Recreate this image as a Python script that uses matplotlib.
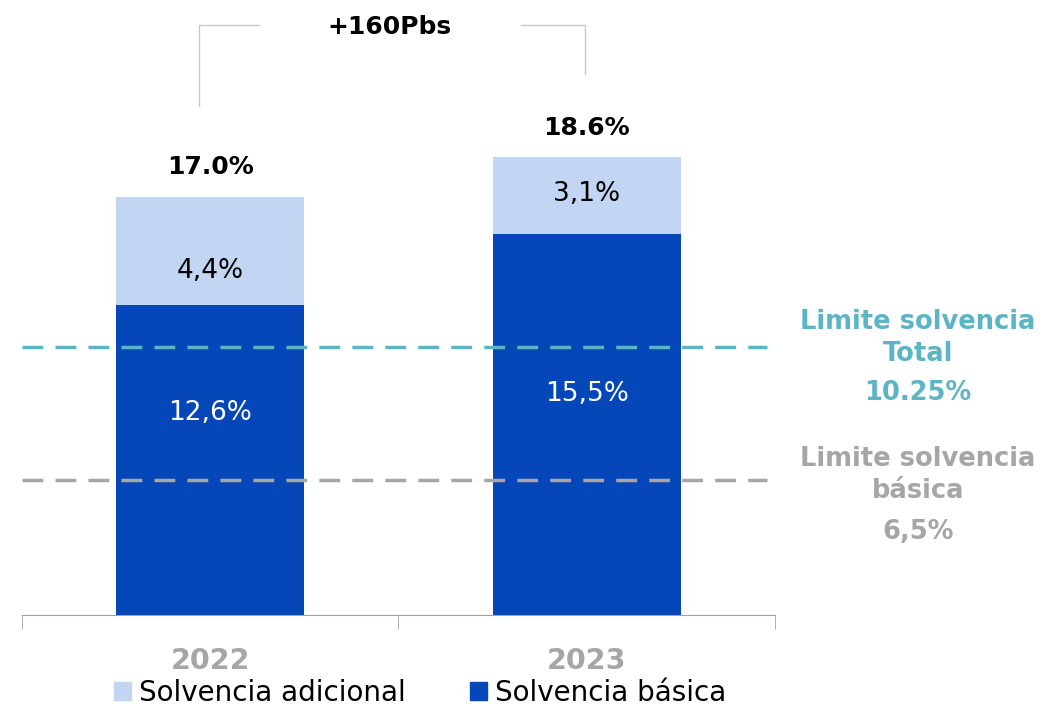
import matplotlib.pyplot as plt
from matplotlib.patches import Patch

# data
years = ["2022", "2023"]
basica = [12.6, 15.5]
adicional = [4.4, 3.1]
totales = [17.0, 18.6]
basica_txt = ["12,6%", "15,5%"]
adicional_txt = ["4,4%", "3,1%"]
total_txt = ["17.0%", "18.6%"]
limite_total_y = 10.9   # where the dashed line sits in the picture
limite_basica_y = 5.5
delta_txt = "+160Pbs"

# label heights inside the bars (as placed in the picture)
basica_lbl_y = [8.2, 9.0]
adicional_lbl_y = [14.0, 17.1]

DARK = "#0547B8"
LIGHT = "#C2D5F3"
TEAL = "#5BB5C4"
GREY = "#A6A6A6"

plt.rcParams['font.family'] = ['DejaVu Sans']

fig = plt.figure(figsize=(10.44, 7.08), dpi=100)
ax = fig.add_axes([22 / 1044, 93 / 708, 753 / 1044, 615 / 708])

x = list(range(len(years)))
ax.bar(x, basica, width=0.5, color=DARK, label="Solvencia básica")
ax.bar(x, adicional, width=0.5, bottom=basica, color=LIGHT, label="Solvencia adicional")

for i in x:
    ax.text(i, basica_lbl_y[i], basica_txt[i], ha="center", va="center",
            color="white", fontsize=19)
    ax.text(i, adicional_lbl_y[i], adicional_txt[i], ha="center",
            va="center", color="black", fontsize=19)
    ax.text(i, totales[i] + 1.2, total_txt[i], ha="center", va="center",
            color="black", fontsize=18, fontweight="bold")

ax.axhline(limite_total_y, xmin=0, xmax=0.99, color=TEAL, lw=2.5, ls=(0, (6, 3.5)))
ax.axhline(limite_basica_y, xmin=0, xmax=0.99, color=GREY, lw=2.5, ls=(0, (6, 3.5)))

# bracket between the two totals
top = 24.0
ax.plot([-0.03, -0.03, 0.13], [totales[0] + 3.7, top, top], color="#C8C8C8",
        lw=1, clip_on=False)
ax.plot([0.825, 0.995, 0.995], [top, top, totales[1] + 3.4], color="#C8C8C8",
        lw=1, clip_on=False)
ax.text(0.475, top - 0.1, delta_txt, ha="center", va="center", fontsize=18,
        fontweight="bold")

ax.set_xlim(-0.5, 1.5)
ax.set_ylim(0, 25.0)
for s in ["top", "left", "right"]:
    ax.spines[s].set_visible(False)
ax.spines["bottom"].set_color("#A0A0A0")
ax.set_yticks([])
ax.set_xticks(x)
ax.set_xticklabels(years, fontsize=20.5, fontweight="bold", color=GREY)
ax.tick_params(axis="x", which="major", length=0, pad=23)
ax.set_xticks([-0.5, 0.5, 1.5], minor=True)
ax.tick_params(axis="x", which="minor", length=10, color="#A0A0A0")

# right side annotations
fx = 918 / 1044
for txt, ypx, col in [("Limite solvencia", 322, TEAL), ("Total", 354, TEAL),
                      ("10.25%", 393, TEAL), ("Limite solvencia", 459, GREY),
                      ("básica", 491, GREY), ("6,5%", 532, GREY)]:
    fig.text(fx, 1 - ypx / 708, txt, ha="center", va="center", color=col,
             fontsize=18.5, fontweight="bold")

handles = [Patch(color=LIGHT, label="Solvencia adicional"),
           Patch(color=DARK, label="Solvencia básica")]
fig.legend(handles=handles, loc="center", bbox_to_anchor=(420 / 1044, 1 - 693 / 708),
           ncol=2, frameon=False, fontsize=20, handlelength=0.62, handleheight=0.62,
           handletextpad=0.3, columnspacing=2.3, borderpad=0)

fig.savefig("out.png", dpi=100)
